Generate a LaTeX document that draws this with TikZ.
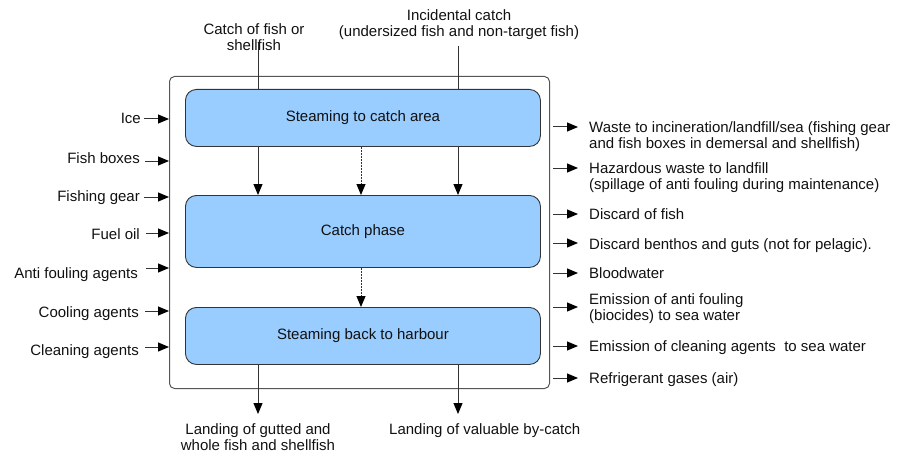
\documentclass[tikz,border=0pt]{standalone}
\usepackage{fontspec}
\setmainfont{Liberation Sans}
\usetikzlibrary{arrows.meta}
\definecolor{boxblue}{HTML}{99CCFF}
\definecolor{boxline}{HTML}{333333}
\definecolor{outline}{HTML}{555555}
\definecolor{txt}{HTML}{111111}
\definecolor{arrcol}{HTML}{333333}
\begin{document}
\begin{tikzpicture}[x=1pt,y=-1pt,
  every node/.style={font=\fontsize{15}{16}\selectfont, text=txt, inner sep=0pt},
  phase/.style={draw=boxline, fill=boxblue, rounded corners=11pt, line width=0.9pt,
    minimum width=355pt, anchor=north west},
  lbl/.style={anchor=base east},
  rlbl/.style={anchor=base west, align=left},
  arr/.style={draw=arrcol, line width=1pt, -{Triangle[length=11pt,width=9pt,color=black]}},
  plain/.style={draw=arrcol, line width=1pt},
  dsh/.style={arr, dash pattern=on 2pt off 1pt}]
\useasboundingbox (0,0) rectangle (906,452);

% outer frame
\node[draw=outline, line width=1pt, rounded corners=5pt, minimum width=380pt,
  minimum height=312pt, anchor=north west] (outer) at (169,76) {};

% phases
\node[phase, minimum height=57pt] (b1) at (185,89) {Steaming to catch area};
\node[phase, minimum height=72pt] (b2) at (185,195) {Catch phase};
\node[phase, minimum height=57pt] (b3) at (185,307) {Steaming back to harbour};

% top inputs (base = baseline of last line)
\coordinate (xl) at (258,43);
\coordinate (xr) at (458,46);
\coordinate (xm) at (361,0);
\draw[plain] (xl) -- (xl |- b1.north);
\draw[plain] (xr) -- (xr |- b1.north);
\node[align=center, anchor=base] (cf) at (254,51) {Catch of fish or\\shellfish};
\node[align=center, anchor=base] (ic) at (459,37) {Incidental catch\\(undersized fish and non-target fish)};

% internal flows
\draw[arr] (b1.south -| xl) -- (b2.north -| xl);
\draw[dsh] (b1.south -| xm) -- (b2.north -| xm);
\draw[arr] (b1.south -| xr) -- (b2.north -| xr);
\draw[dsh] (b2.south -| xm) -- (b3.north -| xm);

% outputs at bottom
\coordinate (lg) at (258,414);
\coordinate (lv) at (458,414);
\draw[arr] (b3.south -| lg) -- (lg);
\draw[arr] (b3.south -| lv) -- (lv);
\node[align=center, anchor=base] (lgt) at (258,450) {Landing of gutted and\\whole fish and shellfish};
\node[anchor=base west] (lvt) at (389,434) {Landing of valuable by-catch};

% left inputs
\node[lbl] (ice) at (141,124) {Ice};
\node[lbl] (fbx) at (140,163) {Fish boxes};
\node[lbl] (fgr) at (140,201) {Fishing gear};
\node[lbl] (fuo) at (140,239) {Fuel oil};
\node[lbl] (afa) at (138,278) {Anti fouling agents};
\node[lbl] (coa) at (139,317) {Cooling agents};
\node[lbl] (cla) at (139,355) {Cleaning agents};
\coordinate (a1) at (144,119);
\coordinate (a2) at (145,161);
\coordinate (a3) at (144,197);
\coordinate (a4) at (146,233);
\coordinate (a5) at (146,268);
\coordinate (a6) at (145,311);
\coordinate (a7) at (145,347);
\foreach \c in {a1,a2,a3,a4,a5,a6,a7}
  \draw[arr] (\c) -- (\c -| outer.west);

% right outputs (base = baseline of last line)
\node[rlbl] (o1) at (589,148) {Waste to incineration/landfill/sea (fishing gear\\and fish boxes in demersal and shellfish)};
\node[rlbl] (o2) at (589,189) {Hazardous waste to landfill\\(spillage of anti fouling during maintenance)};
\node[rlbl] (o3) at (589,219) {Discard of fish};
\node[rlbl] (o4) at (589,249) {Discard benthos and guts (not for pelagic).};
\node[rlbl] (o5) at (589,278) {Bloodwater};
\node[rlbl] (o6) at (589,320) {Emission of anti fouling\\(biocides) to sea water};
\node[rlbl] (o7) at (589,351) {Emission of cleaning agents\ \ to sea water};
\node[rlbl] (o8) at (589,383) {Refrigerant gases (air)};
\coordinate (r1) at (553,127);
\coordinate (r2) at (553,168);
\coordinate (r3) at (553,214);
\coordinate (r4) at (553,243);
\coordinate (r5) at (553,273);
\coordinate (r6) at (553,307);
\coordinate (r7) at (553,346);
\coordinate (r8) at (553,378);
\foreach \c/\o in {r1/o1,r2/o2,r3/o3,r4/o4,r5/o5,r6/o6,r7/o7,r8/o8}
  \draw[arr, shorten >=11pt] (\c) -- (\c -| \o.west);
\end{tikzpicture}
\end{document}
